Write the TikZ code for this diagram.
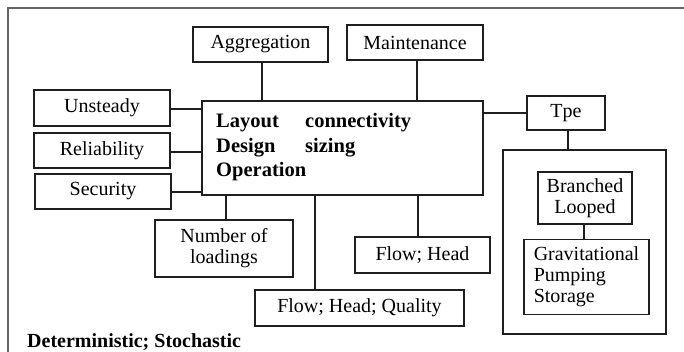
\documentclass[tikz,border=0pt]{standalone}
\usepackage{fontspec}
\setmainfont{Liberation Serif}
\begin{document}
\begin{tikzpicture}[x=1pt,y=-1pt,
  box/.style={draw=black!88, line width=1.6pt, fill=white, inner sep=0pt,
    font=\fontsize{20}{21}\selectfont},
  link/.style={draw=black!88, line width=1.4pt},
  frame/.style={draw=black!60, line width=2pt}]
\useasboundingbox (0,0) rectangle (684,352);
\fill[white] (0,0) rectangle (684,352);
% outer frame (only top and left edges fall inside the page)
\draw[frame] (7.5,352) -- (7.5,8) -- (684,8);

% central block
\node[box, line width=1.8pt, minimum width=281, minimum height=94] (main) at (342.5,148) {};
\node[inner sep=0pt, anchor=base west, font=\fontsize{20.5}{24.5}\selectfont\bfseries]
  (maintext) at (216,128)
  {\begin{tabular}[t]{@{}p{89pt}@{}l@{}}
   Layout & connectivity\\
   Design & sizing\\
   Operation &
   \end{tabular}};

% surrounding boxes
\node[box, minimum width=135, minimum height=35] (agg)   at (260.5,44.5) {Aggregation};
\node[box, minimum width=136, minimum height=35] (maint) at (415,42.5)   {Maintenance};
\node[box, minimum width=136, minimum height=36] (unst)  at (102,108)    {Unsteady};
\node[box, minimum width=136, minimum height=35] (rel)   at (102,150.5)  {Reliability};
\node[box, minimum width=136, minimum height=35] (sec)   at (103,191.5)  {Security};
\node[box, minimum width=78,  minimum height=34] (tpe)   at (566,113)    {Tpe};
\node[box, minimum width=163, minimum height=184] (typebox) at (584.5,242) {};
\node[box, minimum width=94,  minimum height=52, align=center] (bl) at (585,198)
  {Branched\\Looped};
\node[box, minimum width=125, minimum height=75, align=left] (grav) at (586.5,277)
  {Gravitational\\Pumping\\Storage};
\node[box, minimum width=138, minimum height=57, align=center] (nol) at (224,248.5)
  {Number of\\loadings};
\node[box, minimum width=135, minimum height=36] (fh)  at (422.5,255) {Flow; Head};
\node[box, minimum width=209, minimum height=36] (fhq) at (359.5,308) {Flow; Head; Quality};

\node[inner sep=0pt, anchor=base west, font=\fontsize{20}{21}\selectfont\bfseries]
  (kind) at (27,347) {Deterministic; Stochastic};

% connectors
\coordinate (aggc)  at ([xshift=1.5]agg.south);
\coordinate (mntc)  at ([xshift=2]maint.south);
\coordinate (fhc)   at ([xshift=-4.5]fh.north);
\coordinate (fhqc)  at ([xshift=-44.5]fhq.north);
\coordinate (nolc)  at ([xshift=2]nol.north);
\draw[link] (aggc) -- (aggc |- main.north);
\draw[link] (mntc) -- (mntc |- main.north);
\draw[link] ([yshift=-1]unst.east) -- ([yshift=-1]unst.east -| main.west);
\draw[link] ([yshift=-1.5]rel.east) -- ([yshift=-1.5]rel.east -| main.west);
\draw[link] ([yshift=-0.5]sec.east) -- ([yshift=-0.5]sec.east -| main.west);
\draw[link] (tpe.west -| main.east) -- (tpe.west);
\draw[link] ([xshift=2]tpe.south) -- ([xshift=2]tpe.south |- typebox.north);
\draw[link] ([xshift=-1]bl.south) -- ([xshift=-1]bl.south |- grav.north);
\draw[link] (nolc) -- (nolc |- main.south);
\draw[link] (fhc) -- (fhc |- main.south);
\draw[link] (fhqc) -- (fhqc |- main.south);
\end{tikzpicture}
\end{document}
